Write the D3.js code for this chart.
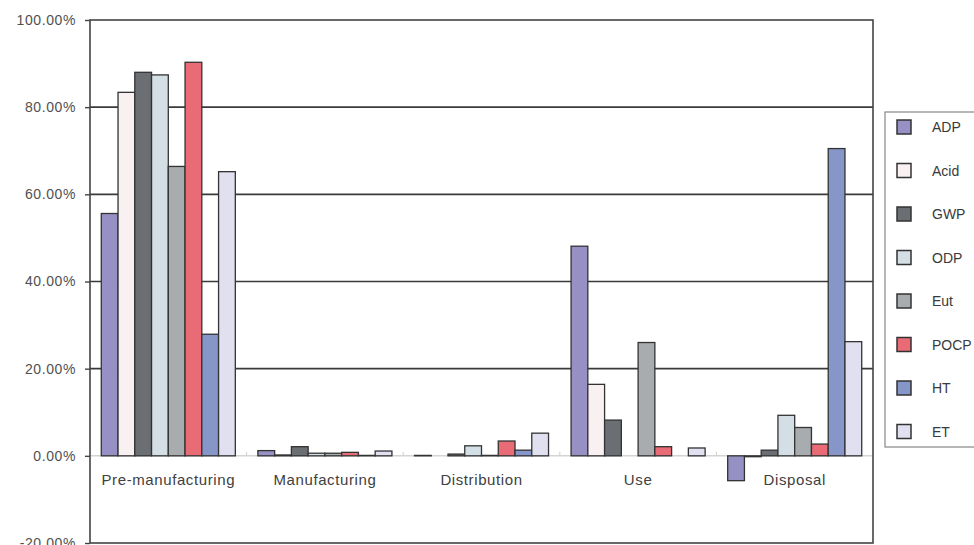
<!DOCTYPE html>
<html>
<head>
<meta charset="utf-8">
<script src="https://cdn.jsdelivr.net/npm/d3@7"></script>
<style>
  body { margin: 0; background: #fff; overflow: hidden; }
  svg { display: block; font-family: "Liberation Sans", Arial, sans-serif; }
</style>
</head>
<body>
<svg id="chart" width="974" height="545"></svg>
<script>
// Life-cycle stages
const stages = ["Pre-manufacturing", "Manufacturing", "Distribution", "Use", "Disposal"];

// Impact categories
const impacts = ["ADP", "Acid", "GWP", "ODP", "Eut", "POCP", "HT", "ET"];

// Share of each impact per stage (%)
const ADP  = [55.6, 1.2, 0.1, 48.1, -5.7];
const Acid = [83.4, 0.2, 0.0, 16.4, -0.2];
const GWP  = [88.0, 2.1, 0.4, 8.2, 1.3];
const ODP  = [87.4, 0.6, 2.3, 0.0, 9.3];
const Eut  = [66.4, 0.6, 0.1, 26.0, 6.5];
const POCP = [90.3, 0.8, 3.4, 2.1, 2.7];
const HT   = [27.9, 0.1, 1.3, 0.0, 70.5];
const ET   = [65.2, 1.1, 5.2, 1.8, 26.2];

const series = [ADP, Acid, GWP, ODP, Eut, POCP, HT, ET];

// Y ticks
const yTicks = [-20, 0, 20, 40, 60, 80, 100];

const colors = ["#9690c4", "#f8f0f1", "#6b6f73", "#d4dee5", "#a9acaf", "#e86b75", "#8796c8", "#e1e0f0"];

const svg = d3.select("#chart");
const plotLeft = 90, plotRight = 873, plotTop = 20, plotBottom = 543;

// Y Axis scale
const y = d3.scaleLinear().domain([-20, 100]).range([plotBottom, plotTop]);

// X scales
const x0 = d3.scaleBand()
  .domain(stages)
  .range([plotLeft, plotRight])
  .paddingInner(0.144)
  .paddingOuter(0.072);

const x1 = d3.scaleBand()
  .domain(impacts)
  .range([0, x0.bandwidth()]);

const color = d3.scaleOrdinal().domain(impacts).range(colors);

// Gridlines
svg.append("g")
  .selectAll("line")
  .data(yTicks.filter(d => d > 0 && d < 100))
  .enter().append("line")
  .attr("x1", plotLeft).attr("x2", plotRight)
  .attr("y1", d => y(d)).attr("y2", d => y(d))
  .attr("stroke", "#3a3a3a")
  .attr("stroke-width", 1.6);

// Zero line
svg.append("line")
  .attr("x1", plotLeft).attr("x2", plotRight)
  .attr("y1", y(0)).attr("y2", y(0))
  .attr("stroke", "#d4d4d4")
  .attr("stroke-width", 1.5);

// Small category separators on zero line
svg.append("g")
  .selectAll("line")
  .data(stages.slice(1))
  .enter().append("line")
  .attr("x1", d => x0(d) - x0.step() * 0.072)
  .attr("x2", d => x0(d) - x0.step() * 0.072)
  .attr("y1", y(0) - 4).attr("y2", y(0))
  .attr("stroke", "#cfcfcf");

// Bars
const table = stages.map((s, i) => ({ stage: s, values: impacts.map((k, j) => ({ key: k, value: series[j][i] })) }));

svg.append("g")
  .selectAll("g")
  .data(table)
  .enter().append("g")
  .attr("transform", d => "translate(" + x0(d.stage) + ",0)")
  .selectAll("rect")
  .data(d => d.values.filter(v => v.value !== 0))
  .enter().append("rect")
  .attr("x", d => x1(d.key))
  .attr("y", d => y(Math.max(0, d.value)))
  .attr("width", x1.bandwidth())
  .attr("height", d => Math.abs(y(d.value) - y(0)))
  .attr("fill", d => color(d.key))
  .attr("stroke", "#333")
  .attr("stroke-width", 1.3);

// Frame
svg.append("rect")
  .attr("x", plotLeft).attr("y", plotTop)
  .attr("width", plotRight - plotLeft).attr("height", plotBottom - plotTop)
  .attr("fill", "none")
  .attr("stroke", "#444")
  .attr("stroke-width", 1.6);

// Y axis
const yAxis = svg.append("g")
  .attr("transform", "translate(" + plotLeft + ",0)")
  .call(d3.axisLeft(y).tickValues(yTicks).tickSize(5).tickFormat(d => d.toFixed(2) + "%"));
yAxis.select(".domain").remove();
yAxis.selectAll(".tick line").attr("stroke", "#444").attr("stroke-width", 1.4);
yAxis.selectAll(".tick text")
  .attr("x", -14)
  .attr("fill", "#505050")
  .style("font-size", "14px")
  .style("letter-spacing", "0.6px");

// Category labels
svg.append("g")
  .selectAll("text")
  .data(stages)
  .enter().append("text")
  .attr("x", d => x0(d) + x0.bandwidth() / 2)
  .attr("y", y(0) + 29)
  .attr("text-anchor", "middle")
  .attr("fill", "#404040")
  .style("font-size", "15px")
  .style("letter-spacing", "0.6px")
  .text(d => d);

// Legend
const legend = svg.append("g");
legend.append("rect")
  .attr("x", 885).attr("y", 112)
  .attr("width", 120).attr("height", 335)
  .attr("fill", "#fff")
  .attr("stroke", "#888")
  .attr("stroke-width", 1.2);

const items = legend.selectAll("g.item")
  .data(impacts)
  .enter().append("g")
  .attr("class", "item")
  .attr("transform", (d, i) => "translate(897," + (127 + i * 43.5) + ")");

items.append("rect")
  .attr("x", 0).attr("y", -7)
  .attr("width", 14).attr("height", 14)
  .attr("fill", d => color(d))
  .attr("stroke", "#333")
  .attr("stroke-width", 1.5);

items.append("text")
  .attr("x", 35).attr("y", 5)
  .attr("fill", "#3a3a3a")
  .style("font-size", "14px")
  .text(d => d);
</script>
</body>
</html>
